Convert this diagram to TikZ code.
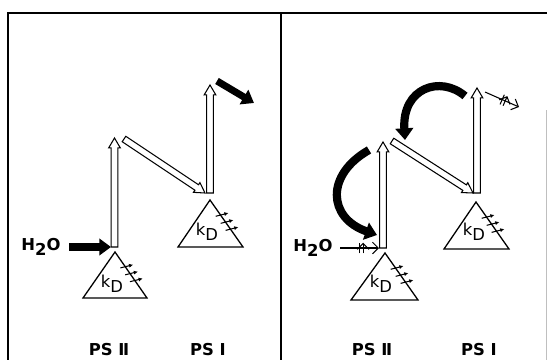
\documentclass[tikz,border=0pt]{standalone}
\usepackage{fontspec}
\setmainfont{DejaVu Sans}
\usetikzlibrary{arrows.meta, calc, decorations.markings}

% hollow (outlined) arrow between two named coordinates
\newcommand{\hollowarrow}[2]{%
  \coordinate (hc) at ($(#2)!8.5pt!(#1)$);
  \draw[hollow] ($(#1)!2.8pt!90:(#2)$) -- ($(hc)!2.8pt!90:(#2)$) -- ($(hc)!5pt!90:(#2)$) -- (#2)
    -- ($(hc)!5pt!-90:(#2)$) -- ($(hc)!2.8pt!-90:(#2)$) -- ($(#1)!2.8pt!-90:(#2)$) -- cycle;}

\begin{document}
\begin{tikzpicture}[
  x=0.03cm, y=-0.03cm,
  frame/.style={line width=1pt},
  hollow/.style={draw=black, fill=white, line width=0.9pt, line join=miter},
  tri/.style={line width=1.1pt, line join=miter},
  bigarr/.style={line width=6pt, -{Triangle[length=10pt, width=14pt]}},
  cycarr/.style={line width=7pt, -{Triangle[length=10pt, width=15pt]}},
  blocked/.style={line width=0.9pt, -{Straight Barb[length=5pt, width=10pt]},
    postaction={decorate},
    decoration={markings, mark=at position 0.55 with {\draw[line width=0.9pt] (-1.4pt,-4.5pt) -- (-1.4pt,4.5pt) (1.4pt,-4.5pt) -- (1.4pt,4.5pt);}}},
  ticks/.style={postaction={decorate},
    decoration={markings,
      mark=at position 0.33 with {\draw[line width=0.9pt, -{Latex[length=3.5pt, width=3.5pt]}] (-2pt,-4pt) -- (2pt,6.5pt);},
      mark=at position 0.48 with {\draw[line width=0.9pt, -{Latex[length=3.5pt, width=3.5pt]}] (-2pt,-4pt) -- (2pt,6.5pt);},
      mark=at position 0.63 with {\draw[line width=0.9pt, -{Latex[length=3.5pt, width=3.5pt]}] (-2pt,-4pt) -- (2pt,6.5pt);}}},
  lbl/.style={font=\bfseries\fontsize{14}{16}\selectfont},
  kd/.style={font=\fontsize{14}{16}\selectfont},
]
\useasboundingbox (0,0) rectangle (547,360);

% frame
\draw[frame] (8,360) -- (8,13) -- (547,13);
\draw[frame] (281,13) -- (281,360);
\draw[gray!50, line width=0.5pt] (546,110) -- (546,360);

%%% left panel
% reaction centres
\coordinate (lpsii) at (115,252);
\coordinate (lpsi) at (210,200);
\draw[tri] (lpsii) -- (147,298) -- (83,298) -- cycle;
\path[ticks] (lpsii) -- (147,298);
\draw[tri] (lpsi) -- (243,247) -- (178,247) -- cycle;
\path[ticks] (lpsi) -- (243,247);
\node[kd] (lkdii) at (112,284) {k\raisebox{-0.55ex}{D}};
\node[kd] (lkdi) at (207,232) {k\raisebox{-0.55ex}{D}};

% Z scheme
\coordinate (la1) at (114.5,247);
\coordinate (la2) at (114.5,138);
\coordinate (ld1) at (124,139);
\coordinate (ld2) at (205,193);
\coordinate (lb1) at (210,193);
\coordinate (lb2) at (210,85);
\hollowarrow{la1}{la2}
\hollowarrow{ld1}{ld2}
\hollowarrow{lb1}{lb2}

% electron flow
\node[lbl] (lh2o) at (41,247) {H\raisebox{-0.5ex}{2}O};
\coordinate (lin) at (111,247);
\coordinate (lout1) at (217,81);
\coordinate (lout2) at (254,103);
\draw[bigarr] (lh2o.east) ++(4pt,0) -- (lin);
\draw[bigarr] (lout1) -- (lout2);

\node[lbl] (lii) at (109,350) {PS Ⅱ};
\node[lbl] (li) at (208,350) {PS Ⅰ};

%%% right panel
\coordinate (rpsii) at (385,253);
\coordinate (rpsi) at (476,202);
\draw[tri] (rpsii) -- (418,300) -- (351,300) -- cycle;
\path[ticks] (rpsii) -- (418,300);
\draw[tri] (rpsi) -- (509,249) -- (444,249) -- cycle;
\path[ticks] (rpsi) -- (509,249);
\node[kd] (rkdii) at (381,284) {k\raisebox{-0.55ex}{D}};
\node[kd] (rkdi) at (474,232) {k\raisebox{-0.55ex}{D}};

\coordinate (ra1) at (383,248);
\coordinate (ra2) at (383,142);
\coordinate (rd1) at (392,141);
\coordinate (rd2) at (473,193);
\coordinate (rb1) at (477,193);
\coordinate (rb2) at (477,88);
\hollowarrow{ra1}{ra2}
\hollowarrow{rd1}{rd2}
\hollowarrow{rb1}{rb2}

% blocked flow and cyclic return
\node[lbl] (rh2o) at (313,248) {H\raisebox{-0.5ex}{2}O};
\coordinate (rin) at (379,248);
\coordinate (rout1) at (485,92);
\coordinate (rout2) at (519,107);
\draw[blocked] (rh2o.east) ++(3pt,0) -- (rin);
\draw[blocked] (rout1) -- (rout2);

\coordinate (rc1) at (369,150);
\coordinate (rc2) at (377,235);
\coordinate (rc3) at (465,96);
\coordinate (rc4) at (405,140);
\draw[cycarr] (rc1) .. controls (325,175) and (328,218) .. (rc2);
\draw[cycarr] (rc3) .. controls (440,75) and (402,88) .. (rc4);

\node[lbl] (rii) at (372,350) {PS Ⅱ};
\node[lbl] (ri) at (479,350) {PS Ⅰ};
\end{tikzpicture}
\end{document}
